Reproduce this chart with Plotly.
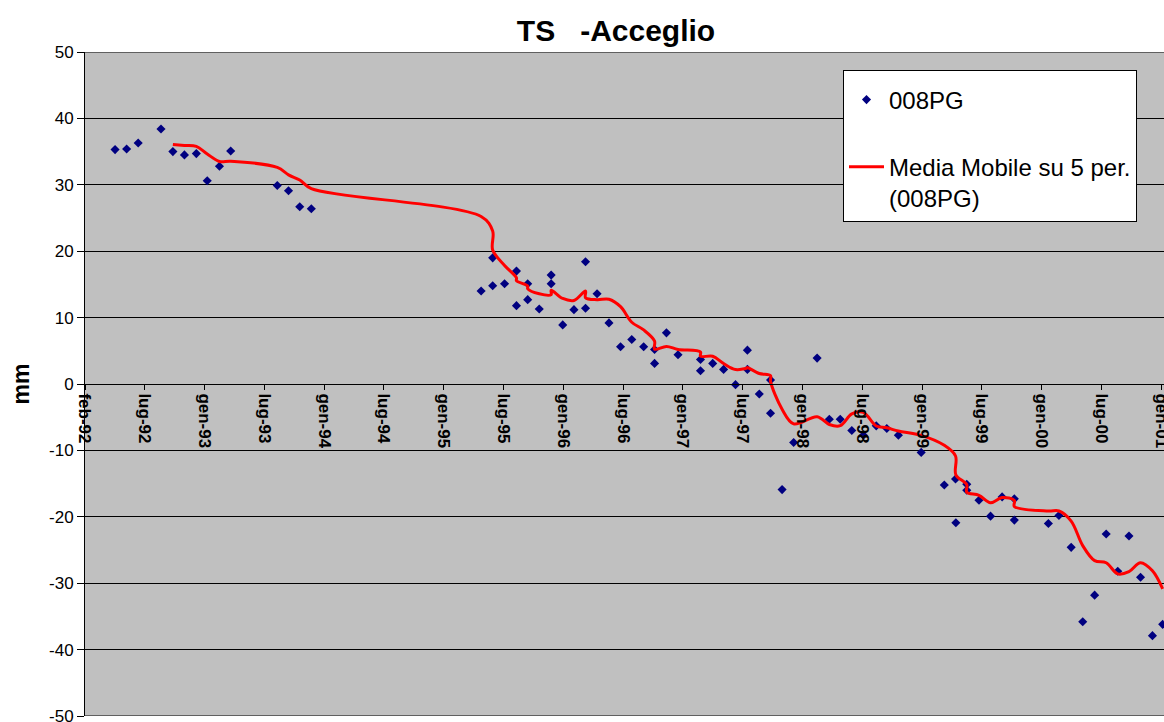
import pandas as pd
import plotly.graph_objects as go

# ---- data ----
dates = [
    "1992-05-02", "1992-06-06", "1992-07-11", "1992-09-18", "1992-10-24", "1992-11-28",
    "1993-01-03", "1993-02-05", "1993-03-14", "1993-04-17", "1993-09-05", "1993-10-09",
    "1993-11-12", "1993-12-17",
    "1995-05-15", "1995-06-19", "1995-06-19", "1995-07-25", "1995-08-30", "1995-08-30",
    "1995-10-03", "1995-10-03", "1995-11-07", "1995-12-13", "1995-12-13", "1996-01-17",
    "1996-02-20", "1996-03-26", "1996-03-26", "1996-04-30", "1996-06-05", "1996-07-10",
    "1996-08-13", "1996-09-18", "1996-10-21", "1996-10-21", "1996-11-26", "1996-12-31",
    "1997-03-09", "1997-03-09", "1997-04-15", "1997-05-18", "1997-06-23", "1997-07-29",
    "1997-07-29", "1997-09-03", "1997-10-07", "1997-10-07", "1997-11-11", "1997-12-16",
    "1998-02-25", "1998-04-03", "1998-05-06", "1998-06-10", "1998-07-15", "1998-08-23",
    "1998-09-24", "1998-10-29", "1999-01-06", "1999-03-17", "1999-04-20", "1999-04-21",
    "1999-05-24", "1999-05-24", "1999-06-30", "1999-08-04", "1999-09-08", "1999-10-15",
    "1999-10-15", "2000-01-26", "2000-02-27", "2000-04-04", "2000-05-09", "2000-06-14",
    "2000-07-19", "2000-08-23", "2000-09-26", "2000-10-31", "2000-12-06", "2001-01-06",
]
values = [
    35.3, 35.4, 36.3, 38.4, 35.0, 34.5,
    34.7, 30.6, 32.8, 35.1, 29.9, 29.1,
    26.7, 26.4,
    14.0, 19.0, 14.8, 15.1, 17.0, 11.8,
    15.1, 12.7, 11.3, 16.4, 15.1, 8.9,
    11.2, 18.4, 11.4, 13.6, 9.2, 5.6,
    6.7, 5.6, 5.2, 3.1, 7.7, 4.4,
    3.7, 2.0, 3.1, 2.2, -0.1, 5.1,
    2.2, -1.5, 0.6, -4.4, -15.9, -8.8,
    3.9, -5.3, -5.3, -7.0, -7.7, -6.3,
    -6.7, -7.7, -10.3, -15.2, -14.3, -20.9,
    -15.1, -16.0, -17.5, -19.9, -17.0, -17.3,
    -20.5, -21.0, -19.8, -24.6, -35.8, -31.8,
    -22.6, -28.2, -22.9, -29.1, -37.9, -36.2,
]
x_tick_labels = ["feb-92", "lug-92", "gen-93", "lug-93", "gen-94", "lug-94", "gen-95",
                 "lug-95", "gen-96", "lug-96", "gen-97", "lug-97", "gen-98", "lug-98",
                 "gen-99", "lug-99", "gen-00", "lug-00", "gen-01"]
y_tick_values = [-50, -40, -30, -20, -10, 0, 10, 20, 30, 40, 50]
y_tick_labels = ["-50", "-40", "-30", "-20", "-10", "0", "10", "20", "30", "40", "50"]

series_name = "008PG"
trend_name = "Media Mobile su 5 per.<br>(008PG)"
title_text = "TS\u00a0\u00a0\u00a0-Acceglio"

# ---- derived ----
x_dates = pd.to_datetime(dates)
moving_avg = pd.Series(values).rolling(5).mean()
axis_start = pd.Timestamp("1992-02-01")
tick_vals = [axis_start + pd.Timedelta(days=181 * k) for k in range(len(x_tick_labels))]

FONT = "Liberation Sans, Arial, sans-serif"

fig = go.Figure()
fig.add_trace(go.Scatter(
    x=x_dates, y=values, mode="markers", name=series_name,
    marker=dict(symbol="diamond", size=7, color="#000080"),
    cliponaxis=False, legendgroup="a",
))
fig.add_trace(go.Scatter(
    x=x_dates[4:], y=moving_avg[4:], mode="lines", name=trend_name,
    line=dict(color="#FF0000", width=3, shape="spline", smoothing=1.0),
    legendgroup="b",
))

# frame lines at the top and bottom of the plot area
for yv in (y_tick_values[0], y_tick_values[-1]):
    fig.add_shape(type="line", xref="paper", yref="y", x0=0, x1=1, y0=yv, y1=yv,
                  line=dict(color="black", width=1), layer="above")

fig.update_layout(
    width=1164, height=722,
    margin=dict(l=85, r=0, t=52, b=6, autoexpand=False),
    paper_bgcolor="white", plot_bgcolor="#C0C0C0",
    font=dict(family=FONT, color="black", size=17),
    title=dict(text="<b>" + title_text + "</b>", x=(616 - 85) / 1079, xref="paper",
               xanchor="center", y=1 - 30 / 722, yref="container", yanchor="middle",
               font=dict(size=30, family=FONT, color="black")),
    showlegend=True,
    legend=dict(x=(843 - 85) / 1079, y=(716 - 70) / 664, xanchor="left", yanchor="top",
                bgcolor="white", bordercolor="black", borderwidth=1,
                font=dict(size=24, family=FONT, color="black"),
                title=dict(text="&nbsp;", font=dict(size=5)),
                tracegroupgap=33, valign="top", itemwidth=35),
    xaxis=dict(
        type="date", range=[axis_start, pd.Timestamp("2001-01-10")],
        tickmode="array", tickvals=tick_vals,
        ticktext=["<b>" + t + "</b>" for t in x_tick_labels],
        tickangle=90, ticks="outside", ticklen=5, tickcolor="black",
        showline=True, linecolor="black", linewidth=1,
        showgrid=False, zeroline=False, automargin=False,
        anchor="free", position=0.5, ticklabeloverflow="allow",
        tickfont=dict(size=17, family=FONT, color="black"),
    ),
    yaxis=dict(
        range=[-50, 50], tickmode="array", tickvals=y_tick_values, ticktext=y_tick_labels,
        ticks="outside", ticklen=7, tickcolor="black",
        showline=True, linecolor="black", linewidth=1,
        showgrid=True, gridcolor="black", gridwidth=1, zeroline=False,
        ticklabeloverflow="allow", automargin=False,
        tickfont=dict(size=17, family=FONT, color="black"),
        title=dict(text="<b>mm</b>", font=dict(size=23, family=FONT, color="black"),
                   standoff=12),
    ),
)

fig.write_html("out.html",
               config={"displayModeBar": False},
               post_script="document.body.style.margin='0px';"
                           "document.body.style.overflow='hidden';")
